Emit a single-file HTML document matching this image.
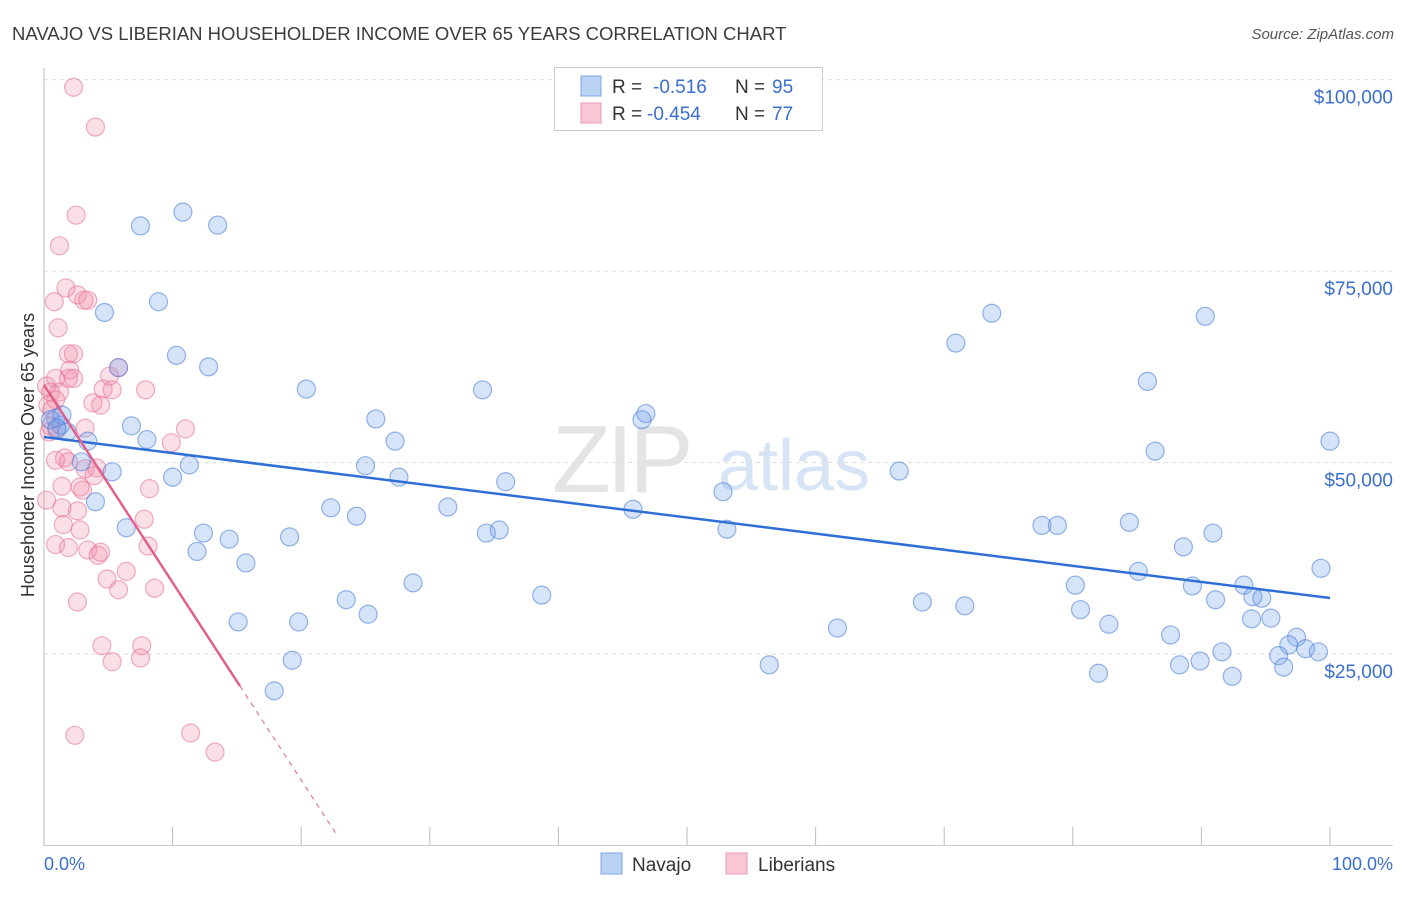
<!DOCTYPE html>
<html><head><meta charset="utf-8"><style>
body{margin:0;background:#fff;font-family:"Liberation Sans",sans-serif}
svg text{font-family:"Liberation Sans",sans-serif}
</style></head><body>
<svg id="chart" width="1406" height="892" xmlns="http://www.w3.org/2000/svg">
<text x="12" y="40" font-size="18.5" fill="#3c3c3c">NAVAJO VS LIBERIAN HOUSEHOLDER INCOME OVER 65 YEARS CORRELATION CHART</text>
<text x="1394" y="39" font-size="15" fill="#555" font-style="italic" text-anchor="end">Source: ZipAtlas.com</text>
<g>
<text x="552" y="492" font-size="96" fill="#e4e4e4" font-family="Liberation Serif" letter-spacing="-4">ZIP</text>
<text x="718" y="490" font-size="72" fill="#d6e4f5">atlas</text>
</g>
<g id="grid"></g>
<line x1="44" y1="68" x2="44" y2="846" stroke="#bbb" stroke-width="1"/>
<line x1="44" y1="845.5" x2="1393" y2="845.5" stroke="#ccc" stroke-width="1"/>
<g id="xticks"></g>
<text transform="translate(34,455) rotate(-90)" font-size="18" fill="#333" text-anchor="middle">Householder Income Over 65 years</text>
<text x="44" y="870" font-size="18" fill="#3a6fd0">0.0%</text>
<text x="1393" y="870" font-size="18" fill="#3a6fd0" text-anchor="end">100.0%</text>
<g id="points"></g>
<g id="lines"></g>
<g>
<rect x="554.5" y="67.5" width="268" height="63" fill="#fff" stroke="#ccc"/>
<rect x="581" y="76" width="20" height="20" fill="#b9d1f3" stroke="#7fa6e6"/>
<rect x="581" y="103" width="20" height="20" fill="#f8c6d5" stroke="#ec9ab4"/>
<text x="612" y="93" font-size="19" fill="#333">R = </text><text x="653" y="93" font-size="19" fill="#3a6fd0">-0.516</text>
<text x="735" y="93" font-size="19" fill="#333">N = </text><text x="772" y="93" font-size="19" fill="#3a6fd0">95</text>
<text x="612" y="120" font-size="19" fill="#333">R = </text><text x="647" y="120" font-size="19" fill="#3a6fd0">-0.454</text>
<text x="735" y="120" font-size="19" fill="#333">N = </text><text x="772" y="120" font-size="19" fill="#3a6fd0">77</text>
</g>
<g>
<rect x="601" y="853" width="21" height="21" fill="#b9d1f3" stroke="#7fa6e6"/>
<text x="632" y="871" font-size="19" fill="#333">Navajo</text>
<rect x="726" y="853" width="21" height="21" fill="#f8c6d5" stroke="#ec9ab4"/>
<text x="758" y="871" font-size="19" fill="#333">Liberians</text>
</g>
</svg>
<script>
const yTicks=[25000,50000,75000,100000];
const yTickLabels=["$25,000","$50,000","$75,000","$100,000"];
const xTickCount=10;
const navajoX=[7.5,10.8,13.5,4.7,8.9,10.3,12.8,5.8,20.4,34.1,73.7,70.9,90.3,85.8,46.8,46.5,25.8,27.3,6.8,8.0,1.3,0.9,1.8,3.4,2.9,5.3,10.0,11.3,25.0,27.6,35.9,66.5,86.4,100,52.8,4.0,6.4,31.4,22.3,24.3,45.8,34.4,35.4,12.4,14.4,19.1,11.9,15.7,53.1,77.6,78.8,84.4,90.9,88.6,99.3,85.1,80.2,89.3,93.3,91.1,94.0,94.7,28.7,38.7,23.5,25.2,68.3,71.6,80.6,82.8,93.9,95.4,15.1,19.8,61.7,87.6,97.4,96.8,98.1,99.1,91.6,96.0,96.4,19.3,56.4,88.3,89.9,82.0,92.4,17.9,1.4,0.5,1.0];
const navajoY=[80.9,82.7,81.0,69.6,71.0,64.0,62.5,62.4,59.6,59.5,69.5,65.6,69.1,60.6,56.4,55.6,55.7,52.8,54.8,53.0,54.9,55.8,54.0,52.8,50.1,48.8,48.1,49.7,49.6,48.1,47.5,48.9,51.5,52.8,46.2,44.9,41.5,44.2,44.1,43.0,43.9,40.8,41.2,40.8,40.0,40.3,38.4,36.9,41.3,41.8,41.8,42.2,40.8,39.0,36.2,35.8,34.0,33.9,34.0,32.1,32.5,32.3,34.3,32.7,32.1,30.2,31.8,31.3,30.8,28.9,29.6,29.7,29.2,29.2,28.4,27.5,27.2,26.2,25.7,25.3,25.3,24.8,23.3,24.2,23.6,23.6,24.1,22.5,22.1,20.2,56.2,55.6,54.5];
const liberianX=[2.3,4.0,2.5,1.2,1.7,2.6,0.8,3.1,3.4,1.1,1.9,2.3,5.8,0.9,1.9,2.0,2.3,5.1,1.2,4.6,5.3,7.9,4.4,3.8,0.2,0.5,0.9,0.3,0.6,0.5,1.0,3.2,0.4,11.0,9.9,0.9,1.6,1.9,3.2,4.1,3.0,1.4,2.8,3.9,0.2,1.4,2.6,8.2,1.5,2.8,0.9,1.9,3.4,4.2,4.4,8.1,6.4,4.9,5.8,8.6,2.6,4.5,7.6,7.5,5.3,2.4,11.4,13.3,7.8];
const liberianY=[99.0,93.8,82.3,78.3,72.8,71.9,71.0,71.2,71.2,67.6,64.2,64.2,62.4,61.0,61.0,62.1,61.0,61.3,59.2,59.6,59.5,59.5,57.5,57.8,60.0,59.2,58.2,57.5,56.9,54.8,54.3,54.5,54.0,54.4,52.6,50.3,50.6,50.1,49.2,49.3,46.4,46.9,46.8,48.3,45.1,44.1,43.7,46.6,41.9,41.2,39.3,38.9,38.6,37.9,38.3,39.1,35.8,34.8,33.4,33.6,31.8,26.1,26.1,24.5,24.0,14.4,14.7,12.2,42.6];
const navajoFit=[53.34,32.32];
const liberianFit=[60.13,-2.579,15.24,22.7];
const NS="http://www.w3.org/2000/svg";
const X=v=>44+v*12.86;
const Y=v=>845.6-v*7.66;
function mk(t,a,p){const e=document.createElementNS(NS,t);for(const k in a)e.setAttribute(k,a[k]);p.appendChild(e);return e;}
const grid=document.getElementById('grid');
yTicks.forEach((t,i)=>{
  const l=mk('line',{x1:44,x2:1393,y1:Y(t/1000),y2:Y(t/1000),stroke:'#ddd','stroke-dasharray':'4,4'},grid);
  
  
  const tx=mk('text',{x:1393,y:Y(t/1000)+24,'font-size':19,fill:'#3a6fd0','text-anchor':'end'},grid);
  tx.textContent=yTickLabels[i];
  
  
});
const xt=document.getElementById('xticks');
for(let i=1;i<=xTickCount;i++){
  const l=mk('line',{x1:X(i*10),x2:X(i*10),y1:827,y2:845,stroke:'#bbb'},xt);
  
  
}
const pts=document.getElementById('points');
liberianX.forEach((x,i)=>{
  const c=mk('circle',{cx:X(x),cy:Y(liberianY[i]),r:9,fill:'rgba(240,140,170,0.28)',stroke:'rgba(230,120,155,0.6)','stroke-width':1.2},pts);
  
  
});
navajoX.forEach((x,i)=>{
  const c=mk('circle',{cx:X(x),cy:Y(navajoY[i]),r:9,fill:'rgba(120,165,235,0.3)',stroke:'rgba(80,130,220,0.6)','stroke-width':1.2},pts);
  
  
});
const ln=document.getElementById('lines');
const bl=mk('line',{x1:X(0),y1:Y(navajoFit[0]),x2:X(100),y2:Y(navajoFit[1]),stroke:'#2f6fd6','stroke-width':2.5},ln);


const lf=x=>liberianFit[0]+liberianFit[1]*x;
const pl=mk('line',{x1:X(0),y1:Y(lf(0)),x2:X(liberianFit[2]),y2:Y(lf(liberianFit[2])),stroke:'#e0608a','stroke-width':2.5},ln);


const pd=mk('line',{x1:X(liberianFit[2]),y1:Y(lf(liberianFit[2])),x2:X(liberianFit[3]),y2:Y(lf(liberianFit[3])),stroke:'#e0608a','stroke-width':1,'stroke-dasharray':'5,5'},ln);


</script>
</body></html>
